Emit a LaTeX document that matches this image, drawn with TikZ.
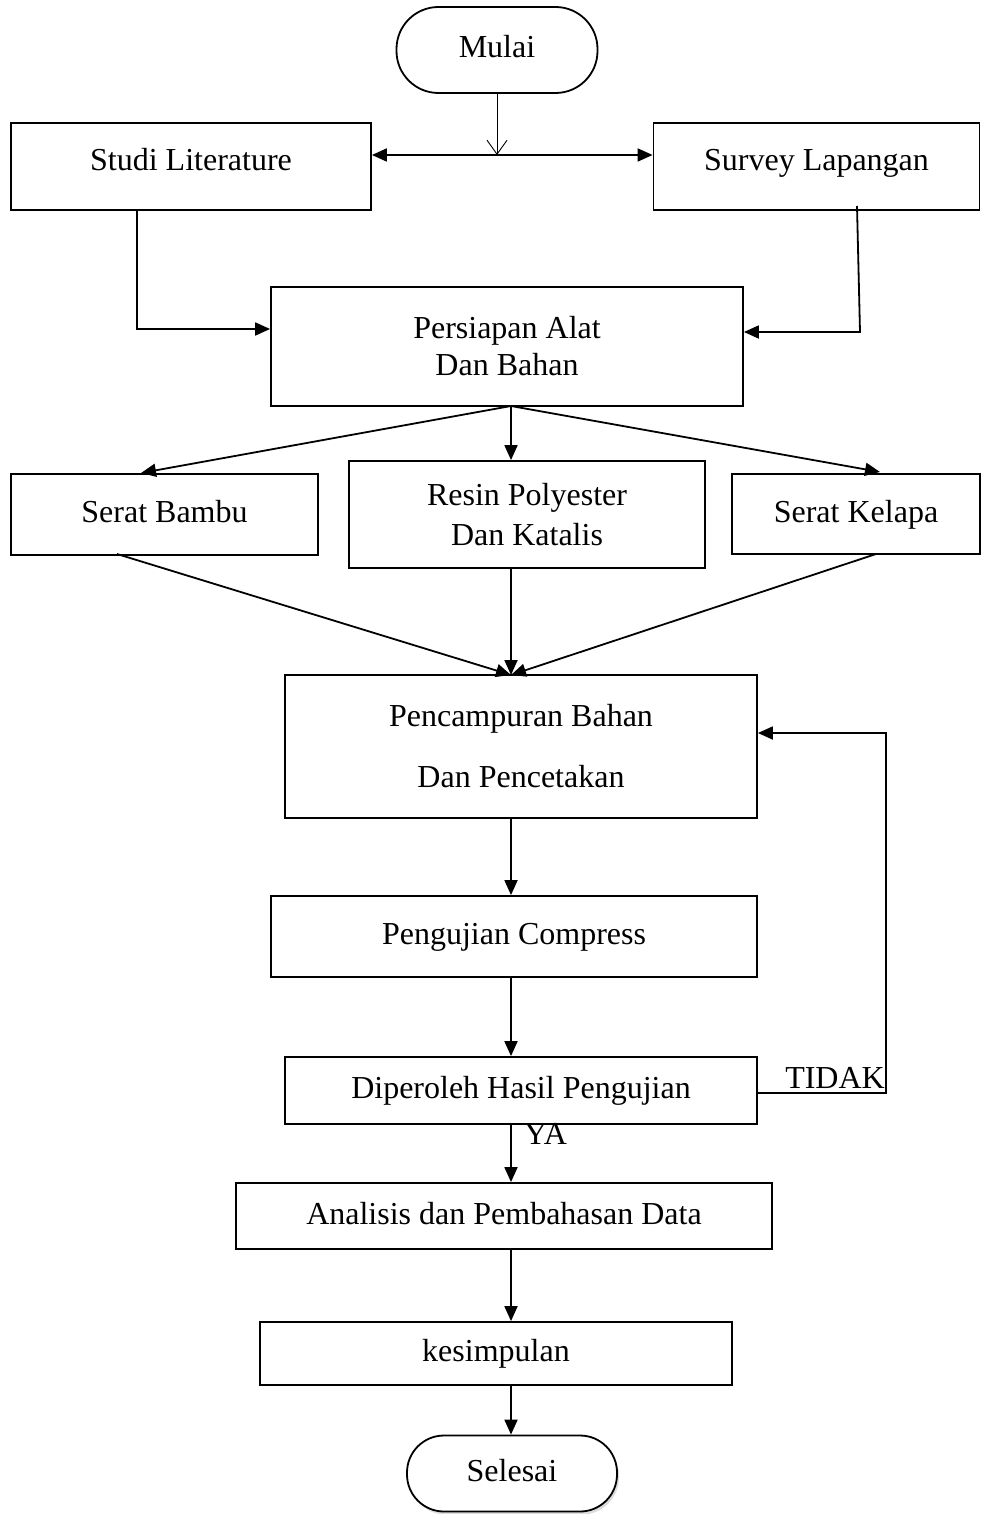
\documentclass[tikz,border=0pt]{standalone}
\usepackage{fontspec}
\setmainfont{Liberation Serif}
\usetikzlibrary{arrows.meta,shadows}
\tikzset{
  box/.style={draw,line width=1.8pt,inner sep=0pt,align=center,font=\fontsize{32}{37}\selectfont},
  one/.style={box,text height=22pt,text depth=6pt},
  term/.style={one,fill=white,rounded corners=#1},
  conn/.style={line width=1.8pt,-{Triangle[length=15pt,width=13pt]}},
  lbl/.style={inner sep=0pt,font=\fontsize{32}{37}\selectfont},
}
\begin{document}
\begin{tikzpicture}[x=1pt,y=-1pt]
\useasboundingbox (0,0) rectangle (980,1514);
%start
\node[term=42pt,minimum width=201pt,minimum height=86pt] (mulai) at (497,50) {Mulai};
\node[one,text depth=14pt,minimum width=360pt,minimum height=87pt] (studi) at (191,166.5) {Studi Literature};
\node[one,text depth=14pt,minimum width=326pt,minimum height=87pt] (survey) at (816.5,166.5) {Survey Lapangan};
\coordinate (split) at (497,155);
\draw[line width=0.9pt,-{Straight Barb[length=14pt,width=20pt]}] (mulai.south) -- (split);
\draw[conn] (split) -- (split -| studi.east);
\draw[conn] (split) -- (split -| survey.west);
%persiapan
\node[box,minimum width=472pt,minimum height=119pt] (persiapan) at (507,346.5) {Persiapan Alat\\Dan Bahan};
\coordinate (lbend) at (137,329);
\coordinate (rbend) at (860,332);
\draw[conn] (lbend |- studi.south) -- (lbend) -- (lbend -| persiapan.west);
\draw[conn] (857,206) -- (rbend) -- (rbend -| persiapan.east);
%bahan
\node[one,minimum width=307pt,minimum height=81pt] (bambu) at (164.5,514.5) {Serat Bambu};
\node[box,minimum width=356pt,minimum height=107pt,font=\fontsize{32}{40}\selectfont] (resin) at (527,514.5) {Resin Polyester\\Dan Katalis};
\node[one,minimum width=248pt,minimum height=80pt] (kelapa) at (856,514) {Serat Kelapa};
\coordinate (fan) at (511,406);
\draw[conn] (fan) -- (141,473);
\draw[conn] (fan) -- (fan |- resin.north);
\draw[conn] (fan) -- (880,472);
%pencampuran
\node[box,minimum width=472pt,minimum height=143pt] (campur) at (521,746.5) {Pencampuran Bahan\\[24pt]Dan Pencetakan};
\coordinate (join) at (511,675);
\draw[conn] (117,554) -- (join);
\draw[conn] (join |- resin.south) -- (join);
\draw[conn] (876,554) -- (join);
%pengujian
\node[one,minimum width=486pt,minimum height=81pt] (uji) at (514,936.5) {Pengujian Compress};
\node[one,minimum width=472pt,minimum height=67pt] (hasil) at (521,1090.5) {Diperoleh Hasil Pengujian};
\draw[conn] (campur.south -| join) -- (uji.north -| join);
\draw[conn] (uji.south -| join) -- (hasil.north -| join);
%TIDAK loop
\coordinate (loop) at (886,1093);
\draw[conn] (hasil.east |- loop) -- (loop) -- (886,733) -- (campur.east |- 0,733);
\node[lbl,anchor=base east] (tidak) at (885,1088) {TIDAK};
\node[lbl,anchor=base west] (ya) at (524,1144) {YA};
%akhir
\node[one,minimum width=536pt,minimum height=66pt] (analisis) at (504,1216) {Analisis dan Pembahasan Data};
\node[one,minimum width=472pt,minimum height=63pt] (simpul) at (496,1353.5) {kesimpulan};
\node[term=37pt,minimum width=210pt,minimum height=76pt,drop shadow={shadow xshift=2pt,shadow yshift=-3pt,fill=gray!55}] (selesai) at (512,1473.5) {Selesai};
\draw[conn] (hasil.south -| join) -- (analisis.north -| join);
\draw[conn] (analisis.south -| join) -- (simpul.north -| join);
\draw[conn] (simpul.south -| join) -- (selesai.north -| join);
\end{tikzpicture}
\end{document}
